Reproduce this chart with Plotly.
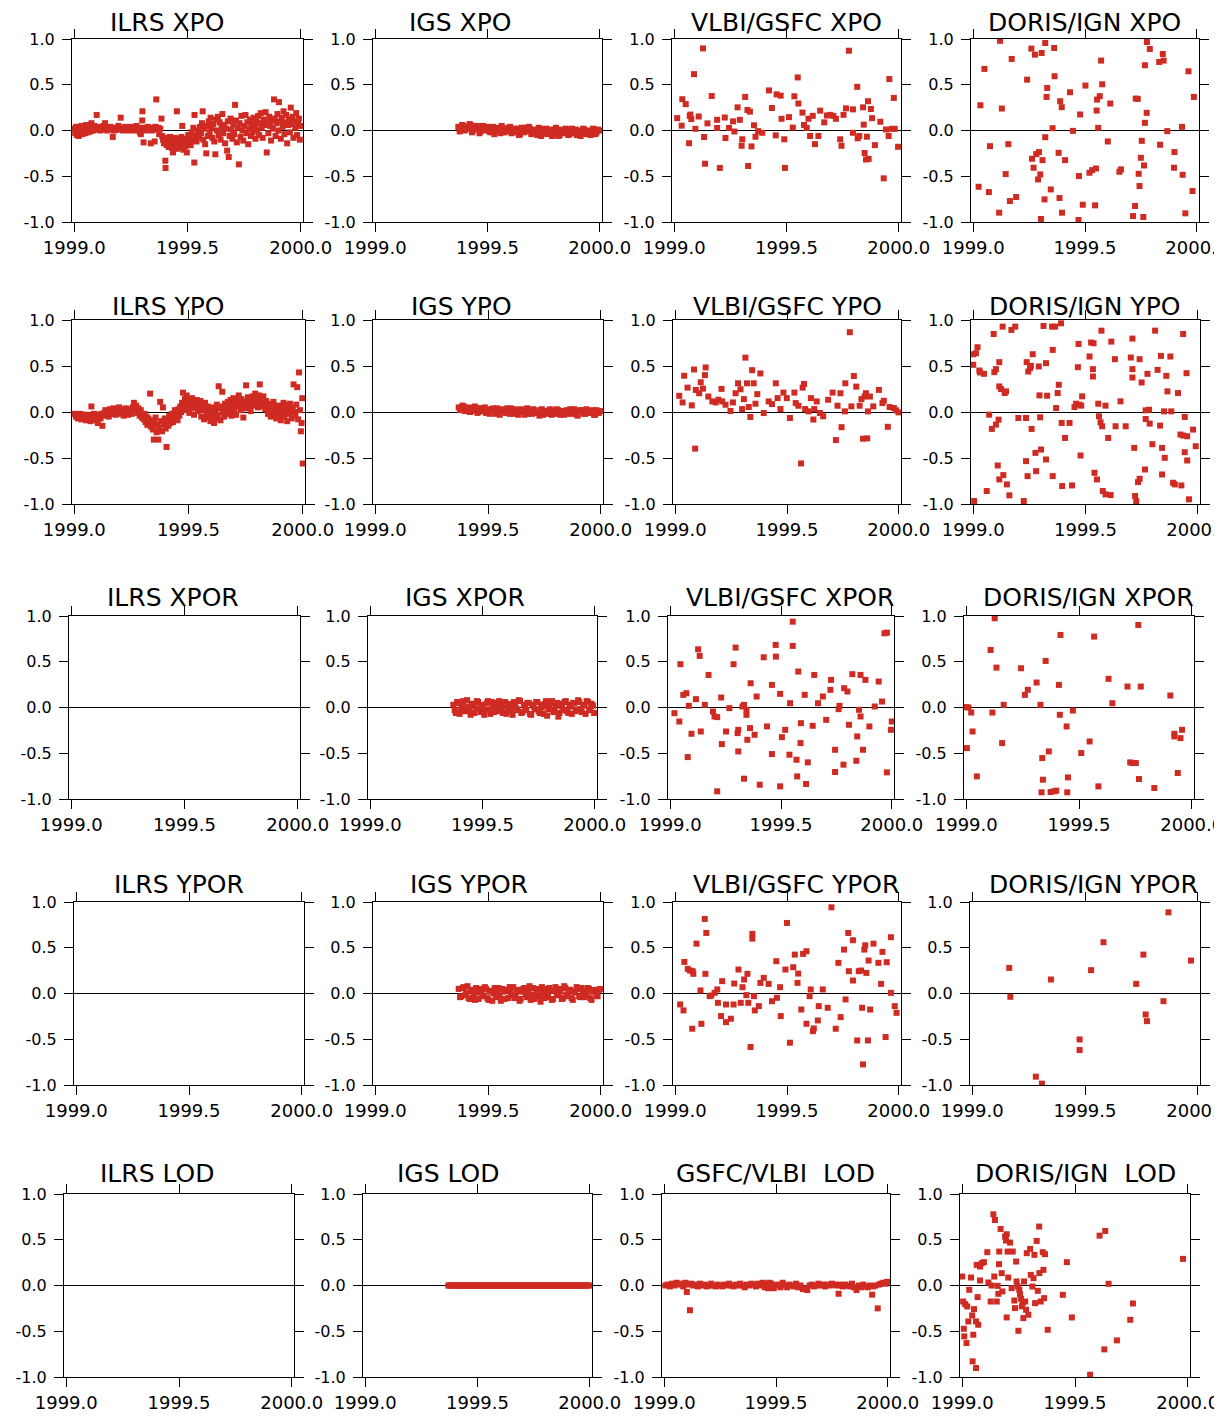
import plotly.graph_objects as go

# ---------------- DATA (decimal year, value) ----------------
ILRS_XPO = [(1999.000,0.02),(1999.004,-0.03),(1999.008,0.04),(1999.012,-0.05),(1999.016,0.01),(1999.020,-0.06),(1999.024,0.03),(1999.028,-0.02),(1999.032,0.05),(1999.036,-0.04),(1999.040,0.00),(1999.044,0.03),(1999.048,-0.03),(1999.052,0.06),(1999.056,0.01),(1999.060,-0.02),(1999.064,0.04),(1999.068,0.02),(1999.072,-0.01),(1999.076,0.08),(1999.080,0.03),(1999.084,0.00),(1999.088,0.05),(1999.092,0.02),(1999.099,0.17),(1999.100,0.01),(1999.105,0.04),(1999.110,0.02),(1999.115,0.00),(1999.120,0.03),(1999.125,0.01),(1999.130,0.05),(1999.136,0.08),(1999.140,0.02),(1999.145,0.00),(1999.150,0.03),(1999.155,0.01),(1999.160,0.04),(1999.165,0.02),(1999.170,-0.07),(1999.175,0.00),(1999.180,0.03),(1999.185,0.01),(1999.190,0.02),(1999.195,0.05),(1999.200,0.01),(1999.205,0.14),(1999.210,0.03),(1999.215,0.00),(1999.220,0.02),(1999.225,0.04),(1999.230,0.01),(1999.235,0.03),(1999.240,0.00),(1999.245,0.02),(1999.250,0.04),(1999.255,0.01),(1999.260,0.03),(1999.265,0.00),(1999.270,0.02),(1999.275,0.05),(1999.280,0.01),(1999.285,0.03),(1999.290,-0.02),(1999.294,-0.04),(1999.300,0.11),(1999.301,0.21),(1999.305,0.02),(1999.306,-0.13),(1999.310,0.03),(1999.315,0.00),(1999.320,0.02),(1999.325,0.04),(1999.330,0.01),(1999.335,0.03),(1999.338,-0.14),(1999.342,0.00),(1999.348,0.02),(1999.355,-0.12),(1999.358,0.04),(1999.362,0.34),(1999.366,0.01),(1999.370,0.03),(1999.375,-0.04),(1999.380,0.02),(1999.385,0.13),(1999.388,-0.06),
(1999.392,-0.10),(1999.396,-0.14),(1999.400,-0.08),(1999.402,-0.33),(1999.403,-0.41),(1999.405,-0.12),(1999.408,-0.16),(1999.411,-0.09),(1999.414,-0.13),(1999.417,-0.18),(1999.420,-0.11),(1999.423,-0.07),(1999.426,-0.15),(1999.429,-0.12),(1999.432,-0.19),(1999.436,-0.24),(1999.438,-0.10),(1999.441,-0.14),(1999.444,-0.08),(1999.447,-0.17),(1999.450,-0.12),(1999.453,0.21),(1999.455,-0.20),(1999.458,-0.09),(1999.461,-0.15),(1999.464,-0.11),(1999.467,-0.18),(1999.470,-0.13),(1999.473,-0.07),(1999.477,0.05),(1999.479,-0.16),(1999.482,-0.21),(1999.485,-0.12),(1999.488,-0.09),(1999.491,-0.17),(1999.494,-0.14),(1999.497,-0.24),(1999.500,-0.10),(1999.503,-0.05),(1999.506,-0.13),(1999.510,-0.08),(1999.514,-0.16),(1999.518,-0.02),(1999.522,-0.11),(1999.526,0.03),(1999.530,-0.35),(1999.531,0.17),(1999.535,-0.06),(1999.540,-0.12),(1999.545,0.00),(1999.550,-0.08),(1999.555,0.04),
(1999.560,-0.03),(1999.564,0.08),(1999.567,0.21),(1999.570,-0.10),(1999.574,0.02),(1999.578,-0.15),(1999.583,-0.25),(1999.586,0.05),(1999.590,-0.06),(1999.594,0.10),(1999.598,-0.02),(1999.602,0.14),(1999.606,0.03),(1999.610,-0.08),(1999.614,0.07),(1999.618,-0.12),(1999.623,-0.26),(1999.626,0.12),(1999.630,0.00),(1999.634,0.15),(1999.638,-0.05),(1999.642,0.09),(1999.646,-0.10),(1999.650,0.04),(1999.654,0.18),(1999.658,-0.03),(1999.662,0.06),(1999.666,-0.14),(1999.670,0.02),(1999.675,-0.22),(1999.678,0.10),(1999.682,-0.29),(1999.686,-0.06),(1999.690,0.13),(1999.694,0.01),(1999.698,-0.09),(1999.702,0.07),(1999.706,-0.04),(1999.710,0.28),(1999.714,0.11),(1999.718,-0.13),(1999.722,0.03),(1999.727,-0.37),(1999.730,0.08),(1999.734,-0.07),(1999.738,0.16),(1999.742,0.00),(1999.746,-0.11),(1999.750,0.05),(1999.756,0.17),(1999.760,-0.03),(1999.764,0.09),(1999.768,-0.15),(1999.772,0.02),(1999.776,0.12),(1999.780,-0.06),(1999.784,0.07),(1999.788,-0.02),(1999.792,0.14),(1999.796,0.04),(1999.800,-0.09),(1999.804,0.10),(1999.808,0.01),(1999.812,0.16),(1999.816,-0.05),(1999.820,0.08),(1999.824,0.19),(1999.828,0.03),(1999.832,-0.08),(1999.836,0.12),(1999.840,0.06),(1999.845,0.20),(1999.850,-0.24),(1999.853,0.09),(1999.857,-0.03),(1999.861,0.15),(1999.865,0.05),(1999.869,-0.11),(1999.873,0.11),(1999.877,0.02),(1999.882,0.34),(1999.885,0.13),(1999.889,-0.06),(1999.893,0.08),(1999.897,0.18),(1999.901,0.00),(1999.904,0.31),(1999.908,0.10),(1999.912,-0.09),(1999.916,0.14),(1999.920,0.04),(1999.924,0.21),(1999.928,-0.04),(1999.932,0.09),(1999.936,0.17),(1999.940,-0.14),(1999.944,0.06),(1999.948,0.12),(1999.952,-0.02),(1999.956,0.25),(1999.960,0.07),(1999.964,0.15),(1999.968,-0.08),(1999.972,0.10),(1999.976,0.03),(1999.980,0.19),(1999.984,-0.05),(1999.988,0.08),(1999.992,0.13),(1999.996,-0.10),(2000.000,0.05)]

ILRS_YPO = [(1999.003,-0.02),(1999.007,-0.05),(1999.011,-0.03),(1999.015,-0.07),(1999.019,-0.04),(1999.023,-0.06),(1999.027,-0.02),(1999.031,-0.08),(1999.035,-0.05),(1999.039,-0.03),(1999.043,-0.07),(1999.047,-0.04),(1999.051,-0.09),(1999.055,-0.06),(1999.059,-0.03),(1999.063,-0.08),(1999.067,-0.05),(1999.071,-0.10),(1999.075,0.06),(1999.079,-0.04),(1999.083,-0.07),(1999.087,-0.02),(1999.091,-0.06),(1999.095,-0.09),(1999.099,-0.04),(1999.103,-0.12),(1999.107,-0.05),(1999.111,-0.03),(1999.115,-0.07),(1999.119,-0.02),(1999.123,-0.15),(1999.127,-0.04),
(1999.131,-0.01),(1999.136,0.02),(1999.141,-0.03),(1999.146,0.01),(1999.151,-0.05),(1999.156,0.03),(1999.161,0.00),(1999.166,-0.02),(1999.171,0.04),(1999.176,0.01),(1999.181,-0.03),(1999.186,0.02),(1999.191,0.00),(1999.196,0.05),(1999.201,-0.02),(1999.206,0.03),(1999.211,0.01),(1999.216,-0.04),(1999.221,0.02),(1999.226,0.04),(1999.231,0.00),(1999.236,-0.03),(1999.241,0.03),(1999.246,0.01),(1999.251,-0.02),(1999.256,0.05),(1999.261,0.10),(1999.266,0.02),(1999.271,0.07),(1999.276,-0.01),(1999.281,0.04),(1999.286,-0.04),(1999.291,0.02),(1999.296,-0.06),
(1999.300,-0.03),(1999.304,-0.08),(1999.308,-0.02),(1999.312,-0.11),(1999.316,-0.05),(1999.320,-0.14),(1999.324,-0.07),(1999.328,-0.10),(1999.332,0.20),(1999.336,-0.16),(1999.340,-0.09),(1999.344,-0.19),(1999.348,-0.30),(1999.352,-0.12),(1999.356,-0.06),(1999.360,-0.22),(1999.364,-0.14),(1999.368,-0.30),(1999.372,-0.17),(1999.376,0.11),(1999.380,-0.10),(1999.384,-0.21),(1999.388,0.05),(1999.392,-0.13),(1999.396,-0.07),(1999.400,-0.18),(1999.404,-0.38),(1999.408,-0.09),(1999.412,-0.15),(1999.416,-0.04),(1999.420,-0.12),(1999.424,-0.08),(1999.428,-0.02),(1999.432,-0.11),(1999.436,-0.05),(1999.440,0.02),(1999.444,-0.07),(1999.448,-0.01),(1999.452,-0.09),(1999.456,0.03),(1999.460,-0.04),(1999.464,0.06),(1999.468,0.00),(1999.472,0.10),
(1999.476,0.21),(1999.480,0.05),(1999.484,0.14),(1999.488,0.02),(1999.492,0.18),(1999.496,0.08),(1999.500,0.12),(1999.504,-0.01),(1999.508,0.10),(1999.512,0.04),(1999.516,0.15),(1999.520,0.07),(1999.524,-0.03),(1999.528,0.11),(1999.532,0.05),(1999.536,0.13),(1999.540,0.01),(1999.544,0.09),(1999.548,0.03),(1999.552,0.12),(1999.556,-0.05),(1999.560,0.07),(1999.564,0.02),(1999.568,-0.08),(1999.572,0.10),(1999.576,0.04),(1999.580,-0.02),(1999.584,0.06),
(1999.588,-0.06),(1999.592,0.03),(1999.596,-0.10),(1999.600,0.01),(1999.604,-0.04),(1999.608,0.05),(1999.612,-0.12),(1999.616,0.02),(1999.620,-0.07),(1999.624,0.08),(1999.628,-0.03),(1999.632,0.28),(1999.636,0.04),(1999.640,-0.09),(1999.644,0.06),(1999.648,0.22),(1999.652,0.00),(1999.656,-0.05),(1999.660,0.09),(1999.664,0.03),(1999.668,-0.02),(1999.672,0.11),(1999.676,0.05),(1999.680,0.00),(1999.684,0.13),(1999.688,-0.04),
(1999.692,0.07),(1999.696,0.15),(1999.700,0.03),(1999.704,0.10),(1999.708,-0.03),(1999.712,0.12),(1999.716,0.06),(1999.720,0.18),(1999.724,0.09),(1999.728,0.02),(1999.732,0.14),(1999.736,0.07),(1999.740,-0.06),(1999.744,0.11),(1999.748,0.04),(1999.752,0.29),(1999.756,0.09),(1999.760,0.16),(1999.764,0.05),(1999.768,0.12),(1999.772,0.01),(1999.776,0.10),(1999.780,0.17),(1999.784,0.07),(1999.788,0.13),(1999.792,0.20),(1999.796,0.09),(1999.800,0.15),(1999.804,0.05),(1999.808,0.18),(1999.812,0.30),(1999.816,0.11),(1999.820,0.14),(1999.824,0.06),(1999.828,0.17),(1999.832,0.10),(1999.836,0.03),(1999.840,0.12),
(1999.844,0.07),(1999.848,-0.02),(1999.852,0.09),(1999.856,0.04),(1999.860,-0.05),(1999.864,0.08),(1999.868,0.01),(1999.872,0.11),(1999.876,-0.03),(1999.880,0.05),(1999.884,-0.07),(1999.888,0.02),(1999.892,0.07),(1999.896,-0.04),(1999.900,0.03),(1999.904,-0.09),(1999.908,0.06),(1999.912,0.00),(1999.916,0.10),(1999.920,-0.05),(1999.924,0.04),(1999.928,0.01),(1999.932,-0.10),(1999.936,0.07),(1999.940,-0.02),(1999.944,0.09),(1999.948,0.03),(1999.952,-0.07),(1999.956,0.05),(1999.960,0.30),(1999.964,0.00),(1999.968,-0.04),(1999.972,0.08),(1999.976,0.27),(1999.980,-0.08),(1999.984,0.43),(1999.988,0.02),(1999.992,-0.21),(1999.995,-0.12),(1999.998,0.15),(2000.000,-0.56)]

# IGS daily series: two interleaved sets of epochs
IGS_T = [1999.370,1999.381,1999.392,1999.403,1999.414,1999.425,1999.436,1999.447,1999.458,1999.469,1999.480,1999.491,1999.502,1999.513,1999.524,1999.535,1999.546,1999.557,1999.568,1999.579,1999.590,1999.601,1999.612,1999.623,1999.634,1999.645,1999.656,1999.667,1999.678,1999.689,1999.700,1999.711,1999.722,1999.733,1999.744,1999.755,1999.766,1999.777,1999.788,1999.799,1999.810,1999.821,1999.832,1999.843,1999.854,1999.865,1999.876,1999.887,1999.898,1999.909,1999.920,1999.931,1999.942,1999.953,1999.964,1999.975,1999.986,1999.997]
IGS_T2 = [1999.376,1999.387,1999.398,1999.409,1999.420,1999.431,1999.442,1999.453,1999.464,1999.475,1999.486,1999.497,1999.508,1999.519,1999.530,1999.541,1999.552,1999.563,1999.574,1999.585,1999.596,1999.607,1999.618,1999.629,1999.640,1999.651,1999.662,1999.673,1999.684,1999.695,1999.706,1999.717,1999.728,1999.739,1999.750,1999.761,1999.772,1999.783,1999.794,1999.805,1999.816,1999.827,1999.838,1999.849,1999.860,1999.871,1999.882,1999.893,1999.904,1999.915,1999.926,1999.937,1999.948,1999.959,1999.970,1999.981,1999.992]
IGS_XPO_Y = [0.04,0.02,0.05,0.01,0.03,0.06,0.00,0.04,0.02,-0.01,0.05,0.01,0.03,-0.02,0.04,0.00,0.02,-0.03,0.03,0.01,-0.01,0.04,0.00,-0.02,0.02,-0.04,0.01,0.03,-0.01,0.02,-0.03,0.00,-0.05,0.02,-0.02,0.01,-0.04,0.00,-0.06,0.01,-0.02,-0.05,0.01,-0.03,0.00,-0.04,0.02,-0.02,-0.05,0.00,-0.03,0.01,-0.04,-0.01,-0.03,0.01,-0.02,0.00]
IGS_XPO_Y2 = [-0.01,0.06,0.00,0.04,0.07,-0.02,0.03,0.05,-0.03,0.02,0.00,0.04,-0.01,0.02,-0.04,0.03,0.00,0.05,-0.02,0.01,0.03,-0.03,0.02,0.00,-0.05,0.03,-0.02,0.00,0.04,-0.04,0.01,-0.02,0.03,-0.06,0.00,0.02,-0.03,0.01,-0.04,0.03,-0.06,0.00,-0.02,0.02,-0.05,0.00,-0.03,0.01,-0.02,-0.06,0.02,-0.03,0.00,-0.05,0.02,-0.04,0.01]
IGS_YPO_Y = [0.05,0.03,0.06,0.02,0.04,0.01,0.05,0.03,0.00,0.04,0.02,-0.01,0.03,0.01,0.04,-0.02,0.02,0.00,0.03,-0.01,0.02,0.04,-0.02,0.01,-0.03,0.03,0.00,0.02,-0.02,0.01,0.03,-0.01,0.00,0.02,-0.03,0.01,-0.01,0.03,0.00,-0.02,0.02,-0.03,0.01,0.00,-0.02,0.03,-0.01,0.01,-0.04,0.02,0.00,-0.02,0.01,-0.01,0.02,-0.03,0.00,0.01]
IGS_YPO_Y2 = [0.02,0.07,0.01,0.05,0.00,0.03,0.06,-0.01,0.04,0.01,0.05,0.00,-0.02,0.03,0.01,0.04,-0.03,0.02,0.00,0.04,-0.02,0.01,0.03,-0.01,0.02,0.00,-0.03,0.04,0.01,-0.02,0.02,0.00,-0.04,0.03,0.01,-0.02,0.02,-0.03,0.01,0.03,-0.01,0.00,-0.03,0.02,0.01,-0.02,0.03,-0.03,0.00,0.02,-0.02,0.03,-0.01,0.00,-0.03,0.02,-0.01]
IGS_XPOR_Y = [0.03,-0.06,0.05,-0.02,0.07,-0.04,0.01,-0.08,0.04,-0.01,0.06,-0.05,0.02,-0.03,0.07,-0.07,0.00,0.05,-0.04,0.03,-0.06,0.06,-0.01,0.04,-0.08,0.02,-0.03,0.07,-0.05,0.01,0.05,-0.07,0.03,-0.02,0.06,-0.06,0.00,0.04,-0.09,0.02,0.07,-0.03,0.05,-0.06,0.01,0.06,-0.04,0.03,-0.07,0.05,-0.02,0.06,-0.05,0.02,0.07,-0.03,0.04,-0.06]
IGS_XPOR_Y2 = [-0.03,0.06,-0.07,0.02,-0.04,0.08,-0.02,0.04,-0.06,0.07,-0.01,0.03,-0.08,0.05,-0.02,0.06,-0.05,0.01,0.07,-0.03,0.04,-0.07,0.02,-0.04,0.06,-0.01,0.08,-0.06,0.03,-0.03,0.05,-0.08,0.01,0.06,-0.04,0.03,-0.07,0.07,-0.02,0.05,-0.05,0.02,-0.10,0.04,-0.03,0.07,-0.06,0.01,0.05,-0.04,0.08,-0.02,0.03,-0.07,0.06,-0.01,0.02]
IGS_YPOR_Y = [0.05,-0.03,0.07,0.01,-0.05,0.04,-0.01,0.06,-0.06,0.02,-0.02,0.05,-0.07,0.03,0.00,-0.04,0.06,-0.08,0.02,0.04,-0.05,0.01,0.07,-0.03,0.03,-0.06,0.05,-0.01,0.02,-0.07,0.06,-0.02,0.04,-0.09,0.01,0.05,-0.04,0.03,-0.06,0.07,-0.01,0.02,-0.05,0.06,-0.03,0.04,-0.07,0.01,0.05,-0.04,0.03,-0.02,0.06,-0.05,0.02,0.04,-0.03,0.05]
IGS_YPOR_Y2 = [-0.04,0.06,-0.02,0.08,-0.06,0.03,-0.07,0.01,0.05,-0.03,0.07,-0.05,0.02,-0.08,0.06,0.00,-0.04,0.05,-0.06,0.03,0.07,-0.02,-0.05,0.04,-0.08,0.02,0.06,-0.04,0.08,-0.01,-0.06,0.05,-0.03,0.07,-0.05,0.01,0.06,-0.07,0.03,-0.02,0.05,-0.06,0.08,-0.01,0.04,-0.05,0.02,0.07,-0.03,0.06,-0.04,0.01,0.05,-0.07,0.03,-0.02,0.04]
IGS_LOD_Y = [0.00,0.00,0.00,0.00,0.00,0.00,0.00,0.00,0.00,0.00,0.00,0.00,0.00,0.00,0.00,0.00,0.00,0.00,0.00,0.00,0.00,0.00,0.00,0.00,0.00,0.00,0.00,0.00,0.00,0.00,0.00,0.00,0.00,0.00,0.00,0.00,0.00,0.00,0.00,0.00,0.00,0.00,0.00,0.00,0.00,0.00,0.00,0.00,0.00,0.00,0.00,0.00,0.00,0.00,0.00,0.00,0.00,0.00]

VLBI_XPO = [(1999.013,0.135),(1999.036,0.342),(1999.033,0.053),(1999.051,0.288),(1999.069,0.16),(1999.076,0.125),(1999.066,-0.139),(1999.088,0.616),(1999.072,0.174),(1999.094,0.018),(1999.109,0.153),(1999.128,0.897),(1999.133,-0.071),(1999.137,-0.363),(1999.148,0.078),(1999.167,0.377),(1999.191,0.117),(1999.191,0.028),(1999.203,-0.409),(1999.225,0.142),(1999.228,-0.082),(1999.244,0.028),(1999.268,-0.011),(1999.262,0.1),(1999.282,0.253),(1999.292,0.117),(1999.3,-0.167),(1999.303,-0.096),(1999.316,0.367),(1999.326,0.224),(1999.329,-0.388),(1999.337,0.206),(1999.344,-0.174),(1999.355,0.057),(1999.362,-0.068),(1999.374,-0.007),(1999.392,-0.025),(1999.422,0.438),(1999.435,0.246),(1999.452,-0.053),(1999.456,0.395),(1999.474,0.381),(1999.478,0.128),(1999.49,-0.096),(1999.493,-0.409),(1999.511,0.146),(1999.528,0.032),(1999.535,0.374),(1999.55,0.58),(1999.553,0.295),(1999.571,0.196),(1999.578,0.06),(1999.59,0.028),(1999.598,0.128),(1999.605,-0.06),(1999.617,0.16),(1999.627,-0.149),(1999.642,-0.06),(1999.65,0.217),(1999.668,0.089),(1999.68,0.164),(1999.694,0.171),(1999.709,0.16),(1999.72,0.128),(1999.739,-0.096),(1999.745,-0.167),(1999.754,0.171),(1999.765,0.242),(1999.778,0.872),(1999.796,0.231),(1999.796,-0.025),(1999.815,0.477),(1999.817,-0.085),(1999.824,-0.06),(1999.841,0.253),(1999.844,0.064),(1999.848,-0.246),(1999.854,-0.317),(1999.858,-0.068),(1999.863,0.32),(1999.866,-0.31),(1999.876,0.235),(1999.881,0.135),(1999.894,-0.16),(1999.918,0.096),(1999.933,-0.523),(1999.943,0.011),(1999.955,-0.06),(1999.958,0.562),(1999.97,0.018),(1999.978,0.356),(1999.982,0.018),(1999.997,-0.178)]

DORIS_XPO = [(1999.032,0.276),(1999.05,0.673),(1999.024,-0.615),(1999.07,-0.673),(1999.075,-0.171),(1999.12,0.98),(1999.128,0.24),(1999.116,-0.898),(1999.145,-0.476),(1999.157,-0.149),(1999.164,-0.771),(1999.172,0.782),(1999.192,-0.727),(1999.241,0.556),(1999.26,0.895),(1999.263,-0.309),(1999.27,-0.407),(1999.276,0.829),(1999.282,-0.258),(1999.29,-0.535),(1999.294,-0.236),(1999.3,-0.48),(1999.306,0.847),(1999.303,-0.967),(1999.31,-0.324),(1999.319,-0.753),(1999.322,-0.073),(1999.322,0.956),(1999.328,0.367),(1999.331,0.465),(1999.347,-0.644),(1999.355,0.025),(1999.362,0.902),(1999.364,0.593),(1999.382,-0.244),(1999.389,0.32),(1999.386,-0.738),(1999.396,0.255),(1999.397,-0.898),(1999.411,-0.324),(1999.433,0.418),(1999.446,-0.004),(1999.471,-0.978),(1999.473,-0.498),(1999.478,0.175),(1999.49,-0.811),(1999.502,0.491),(1999.52,-0.462),(1999.532,-0.433),(1999.545,-0.818),(1999.549,-0.415),(1999.552,0.218),(1999.554,0.338),(1999.559,0.029),(1999.566,0.375),(1999.572,0.764),(1999.577,0.505),(1999.602,-0.12),(1999.613,0.295),(1999.654,-0.451),(1999.661,-0.425),(1999.715,-0.935),(1999.724,-0.825),(1999.727,0.349),(1999.736,0.345),(1999.74,-0.473),(1999.744,-0.607),(1999.75,-0.298),(1999.754,-0.113),(1999.761,-0.945),(1999.764,-0.382),(1999.768,0.713),(1999.768,0.084),(1999.776,0.193),(1999.777,0.967),(1999.79,0.891),(1999.836,-0.156),(1999.832,0.749),(1999.848,0.836),(1999.852,0.764),(1999.868,-0.007),(1999.9,-0.236),(1999.898,-0.407),(1999.934,0.04),(1999.937,-0.484),(1999.949,-0.905),(1999.963,0.647),(1999.981,-0.662),(1999.987,0.367)]

VLBI_YPO = [(1999.018,0.176),(1999.033,0.104),(1999.04,0.394),(1999.055,0.265),(1999.074,0.072),(1999.084,0.462),(1999.089,-0.398),(1999.092,0.24),(1999.107,0.204),(1999.114,0.323),(1999.124,0.254),(1999.133,0.401),(1999.136,0.484),(1999.148,0.168),(1999.166,0.115),(1999.181,0.104),(1999.193,0.133),(1999.207,0.251),(1999.21,0.115),(1999.225,0.079),(1999.247,0.011),(1999.258,0.104),(1999.27,0.204),(1999.281,0.312),(1999.292,0.247),(1999.299,0.032),(1999.307,0.14),(1999.314,0.591),(1999.321,0.312),(1999.329,0.054),(1999.336,-0.054),(1999.344,0.455),(1999.351,0.312),(1999.359,0.09),(1999.367,0.194),(1999.381,0.419),(1999.396,-0.011),(1999.418,0.115),(1999.433,0.086),(1999.45,0.312),(1999.458,0.151),(1999.471,0.032),(1999.484,0.211),(1999.499,0.151),(1999.513,-0.065),(1999.533,0.211),(1999.539,0.097),(1999.551,0.068),(1999.563,-0.559),(1999.57,0.265),(1999.576,0.305),(1999.581,0.032),(1999.596,0.007),(1999.607,0.151),(1999.618,-0.082),(1999.622,0.032),(1999.633,0.115),(1999.647,-0.011),(1999.662,-0.047),(1999.684,0.133),(1999.704,0.211),(1999.719,-0.305),(1999.726,0.068),(1999.739,0.204),(1999.744,-0.165),(1999.759,0.007),(1999.761,0.312),(1999.781,0.867),(1999.788,0.061),(1999.799,0.391),(1999.81,0.276),(1999.825,0.068),(1999.833,0.14),(1999.84,-0.29),(1999.847,0.168),(1999.859,-0.287),(1999.853,0.204),(1999.862,0.007),(1999.871,0.168),(1999.886,0.061),(1999.911,0.24),(1999.927,0.097),(1999.933,0.122),(1999.951,-0.161),(1999.959,0.054),(1999.978,0.043),(1999.988,0.018),(1999.999,-0.004)]

DORIS_YPO = [(1999.0,0.628),(1999.012,0.639),(1999.0,0.513),(1999.019,0.704),(1999.027,0.451),(1999.03,0.43),(1999.048,0.415),(1999.06,-0.859),(1999.004,-0.968),(1999.071,-0.029),(1999.083,-0.184),(1999.091,0.848),(1999.094,0.433),(1999.101,0.466),(1999.101,-0.137),(1999.109,-0.581),(1999.113,-0.083),(1999.116,0.542),(1999.116,0.278),(1999.124,0.249),(1999.116,-0.733),(1999.131,0.928),(1999.134,-0.686),(1999.14,0.206),(1999.146,0.224),(1999.15,-0.787),(1999.161,-0.906),(1999.17,0.892),(1999.187,0.928),(1999.201,-0.065),(1999.225,-0.968),(1999.235,-0.065),(1999.235,-0.534),(1999.238,0.542),(1999.242,-0.697),(1999.245,0.44),(1999.253,0.477),(1999.257,0.502),(1999.26,-0.184),(1999.265,0.628),(1999.28,-0.643),(1999.277,-0.444),(1999.292,0.495),(1999.295,0.181),(1999.298,-0.058),(1999.302,-0.408),(1999.313,0.935),(1999.324,0.531),(1999.329,0.177),(1999.324,-0.516),(1999.354,0.675),(1999.354,-0.697),(1999.351,0.928),(1999.365,0.928),(1999.369,0.043),(1999.376,0.206),(1999.381,0.296),(1999.394,-0.119),(1999.396,-0.805),(1999.391,0.964),(1999.409,-0.282),(1999.429,-0.119),(1999.44,-0.798),(1999.451,0.054),(1999.458,0.09),(1999.466,0.487),(1999.469,0.74),(1999.473,0.079),(1999.478,-0.473),(1999.485,0.17),(1999.481,0.069),(1999.518,0.603),(1999.525,0.755),(1999.533,0.466),(1999.533,0.386),(1999.536,0.747),(1999.54,-0.661),(1999.551,-0.733),(1999.557,0.09),(1999.56,-0.047),(1999.567,-0.112),(1999.571,0.884),(1999.574,-0.155),(1999.589,0.069),(1999.577,-0.859),(1999.589,-0.895),(1999.601,-0.282),(1999.612,-0.903),(1999.615,0.765),(1999.634,-0.155),(1999.631,0.574),(1999.656,0.116),(1999.679,-0.155),(1999.702,0.592),(1999.709,0.798),(1999.709,0.466),(1999.709,0.375),(1999.717,-0.39),(1999.721,-0.913),(1999.726,-0.968),(1999.734,-0.762),(1999.741,-0.726),(1999.741,0.574),(1999.75,0.321),(1999.765,-0.625),(1999.768,-0.076),(1999.768,0.018),(1999.776,0.415),(1999.783,0.025),(1999.786,-0.126),(1999.798,-0.35),(1999.81,0.884),(1999.821,0.458),(1999.832,-0.148),(1999.836,0.61),(1999.841,-0.679),(1999.841,-0.39),(1999.85,0.007),(1999.853,-0.498),(1999.86,0.393),(1999.865,0.224),(1999.878,0.603),(1999.882,0.007),(1999.89,-0.769),(1999.898,-0.787),(1999.912,0.206),(1999.927,-0.798),(1999.923,-0.245),(1999.935,0.848),(1999.935,-0.256),(1999.942,-0.054),(1999.95,0.422),(1999.953,-0.527),(1999.942,-0.437),(1999.953,-0.264),(1999.961,-0.949),(1999.979,-0.191),(1999.991,-0.372)]

VLBI_XPOR = [(1999.019,-0.062),(1999.041,-0.153),(1999.046,0.473),(1999.059,0.138),(1999.073,0.156),(1999.079,-0.542),(1999.084,0.018),(1999.096,-0.287),(1999.116,0.091),(1999.126,0.636),(1999.133,0.564),(1999.138,-0.262),(1999.156,0.029),(1999.173,0.356),(1999.193,-0.044),(1999.2,-0.098),(1999.212,-0.916),(1999.212,-0.105),(1999.23,0.109),(1999.233,-0.4),(1999.252,-0.262),(1999.267,-0.007),(1999.286,0.473),(1999.295,0.655),(1999.304,-0.28),(1999.307,-0.244),(1999.307,-0.48),(1999.326,0.011),(1999.333,0.029),(1999.333,-0.778),(1999.344,-0.025),(1999.344,-0.08),(1999.348,-0.353),(1999.36,-0.225),(1999.363,0.265),(1999.381,-0.298),(1999.39,0.12),(1999.404,-0.844),(1999.422,0.549),(1999.437,-0.207),(1999.459,0.247),(1999.459,-0.509),(1999.476,0.684),(1999.477,0.556),(1999.496,0.149),(1999.496,-0.862),(1999.504,-0.324),(1999.519,-0.244),(1999.538,-0.516),(1999.541,0.047),(1999.553,0.938),(1999.553,0.673),(1999.57,-0.571),(1999.573,-0.753),(1999.578,0.393),(1999.588,-0.389),(1999.59,-0.171),(1999.607,0.138),(1999.613,-0.836),(1999.621,-0.6),(1999.643,-0.2),(1999.65,0.356),(1999.667,0.047),(1999.689,0.12),(1999.704,-0.135),(1999.723,0.193),(1999.726,0.302),(1999.744,-0.462),(1999.744,-0.705),(1999.76,-0.018),(1999.764,0.018),(1999.782,-0.625),(1999.785,0.211),(1999.8,0.175),(1999.807,-0.189),(1999.822,0.364),(1999.84,-0.582),(1999.844,-0.316),(1999.852,-0.025),(1999.859,0.356),(1999.859,-0.098),(1999.87,-0.462),(1999.881,0.302),(1999.899,-0.207),(1999.923,0.011),(1999.941,0.284),(1999.956,0.065),(1999.967,0.811),(1999.978,-0.709),(1999.978,0.818),(1999.996,-0.244),(2000.0,-0.153)]

DORIS_XPOR = [(1999.0,0.004),(1999.003,-0.444),(1999.01,0.0),(1999.022,-0.055),(1999.028,-0.262),(1999.047,-0.753),(1999.108,0.629),(1999.116,-0.055),(1999.126,0.975),(1999.134,0.436),(1999.159,-0.389),(1999.166,0.029),(1999.243,0.429),(1999.26,0.138),(1999.273,0.193),(1999.312,0.273),(1999.329,0.029),(1999.334,-0.927),(1999.337,-0.553),(1999.34,-0.789),(1999.352,0.509),(1999.366,-0.48),(1999.374,-0.924),(1999.389,-0.916),(1999.399,-0.909),(1999.411,0.247),(1999.415,-0.08),(1999.418,0.793),(1999.445,-0.207),(1999.448,-0.927),(1999.451,-0.764),(1999.473,-0.033),(1999.51,-0.498),(1999.547,-0.371),(1999.567,0.775),(1999.586,-0.862),(1999.631,0.313),(1999.648,0.047),(1999.715,0.229),(1999.727,-0.6),(1999.737,-0.607),(1999.752,-0.607),(1999.763,0.902),(1999.766,-0.782),(1999.774,0.229),(1999.834,-0.88),(1999.905,0.131),(1999.923,-0.287),(1999.923,-0.316),(1999.938,-0.716),(1999.95,-0.335),(1999.957,-0.244)]

VLBI_YPOR = [(1999.022,-0.12),(1999.037,-0.185),(1999.041,0.345),(1999.056,0.269),(1999.066,0.251),(1999.076,-0.385),(1999.078,0.244),(1999.081,0.215),(1999.095,0.545),(1999.117,-0.331),(1999.113,0.033),(1999.132,0.815),(1999.139,0.662),(1999.135,0.215),(1999.154,-0.029),(1999.161,-0.022),(1999.176,0.007),(1999.188,0.044),(1999.191,-0.102),(1999.21,0.135),(1999.205,-0.247),(1999.227,-0.12),(1999.227,-0.313),(1999.249,-0.276),(1999.264,0.109),(1999.261,-0.12),(1999.283,0.262),(1999.293,-0.102),(1999.301,0.069),(1999.308,0.153),(1999.318,-0.018),(1999.323,0.215),(1999.327,-0.102),(1999.337,-0.585),(1999.345,0.651),(1999.345,0.6),(1999.352,-0.029),(1999.356,-0.185),(1999.374,-0.138),(1999.381,0.116),(1999.396,0.171),(1999.418,0.105),(1999.433,-0.084),(1999.452,0.353),(1999.455,-0.047),(1999.469,0.069),(1999.472,-0.247),(1999.493,0.262),(1999.5,0.771),(1999.513,-0.538),(1999.528,0.287),(1999.535,0.425),(1999.547,0.116),(1999.55,0.218),(1999.564,-0.175),(1999.572,0.433),(1999.587,0.462),(1999.587,-0.331),(1999.601,-0.029),(1999.606,0.044),(1999.616,-0.411),(1999.62,-0.382),(1999.638,-0.295),(1999.642,-0.138),(1999.66,0.044),(1999.682,-0.156),(1999.699,0.942),(1999.718,-0.385),(1999.73,0.335),(1999.74,-0.258),(1999.755,0.48),(1999.762,-0.065),(1999.774,0.662),(1999.777,0.244),(1999.795,0.582),(1999.795,0.142),(1999.814,-0.513),(1999.821,0.244),(1999.831,0.251),(1999.836,-0.156),(1999.84,-0.775),(1999.846,0.48),(1999.85,0.527),(1999.855,0.225),(1999.862,-0.513),(1999.865,0.36),(1999.872,-0.175),(1999.887,0.545),(1999.909,0.335),(1999.921,0.105),(1999.927,0.455),(1999.941,-0.476),(1999.946,0.342),(1999.965,0.615),(1999.965,0.007),(1999.982,-0.138),(1999.99,-0.211)]

DORIS_YPOR = [(1999.164,0.28),(1999.169,-0.036),(1999.282,-0.909),(1999.309,-0.985),(1999.349,0.153),(1999.476,-0.502),(1999.476,-0.618),(1999.527,0.255),(1999.582,0.56),(1999.727,0.105),(1999.759,0.425),(1999.769,-0.229),(1999.775,-0.302),(1999.848,-0.084),(1999.87,0.887),(1999.97,0.36)]

VLBI_LOD = [(1999.005,0.0),(1999.015,0.01),(1999.025,-0.01),(1999.035,0.02),(1999.045,0.0),(1999.055,0.03),(1999.065,0.01),(1999.075,0.02),(1999.085,-0.01),(1999.095,0.03),(1999.101,-0.07),(1999.105,0.01),(1999.115,-0.27),(1999.12,0.02),(1999.13,0.0),(1999.14,0.01),(1999.15,-0.01),(1999.16,0.02),(1999.17,0.0),(1999.18,0.01),(1999.19,-0.01),(1999.2,0.0),(1999.21,0.02),(1999.22,0.0),(1999.23,-0.01),(1999.24,0.01),(1999.25,0.0),(1999.26,-0.01),(1999.27,0.01),(1999.28,0.0),(1999.29,0.02),(1999.3,0.0),(1999.31,-0.01),(1999.32,0.01),(1999.33,0.0),(1999.34,0.02),(1999.35,0.0),(1999.36,-0.02),(1999.37,0.01),(1999.38,0.0),(1999.39,0.02),(1999.40,0.01),(1999.41,-0.01),(1999.42,0.02),(1999.43,0.0),(1999.44,0.03),(1999.45,-0.02),(1999.455,0.02),(1999.46,0.0),(1999.465,-0.03),(1999.47,0.03),(1999.475,-0.01),(1999.48,0.02),(1999.49,-0.03),(1999.5,0.0),(1999.51,0.01),(1999.52,-0.02),(1999.53,0.03),(1999.54,0.0),(1999.55,-0.02),(1999.56,0.01),(1999.57,0.0),(1999.58,-0.01),(1999.59,0.02),(1999.6,-0.02),(1999.61,0.0),(1999.62,-0.04),(1999.63,-0.03),(1999.64,-0.05),(1999.65,0.0),(1999.66,0.01),(1999.67,-0.01),(1999.68,0.0),(1999.69,0.02),(1999.7,0.0),(1999.71,0.01),(1999.72,-0.01),(1999.73,0.01),(1999.74,0.0),(1999.75,0.02),(1999.76,0.01),(1999.77,0.0),(1999.78,-0.09),(1999.785,0.01),(1999.79,0.0),(1999.80,-0.01),(1999.81,0.01),(1999.82,0.0),(1999.83,-0.01),(1999.84,0.02),(1999.85,-0.02),(1999.86,-0.05),(1999.87,0.0),(1999.88,-0.02),(1999.89,0.01),(1999.9,-0.01),(1999.91,-0.02),(1999.92,0.0),(1999.93,-0.1),(1999.935,-0.01),(1999.945,0.0),(1999.955,-0.25),(1999.96,0.01),(1999.97,0.02),(1999.98,0.03),(1999.99,0.02),(1999.997,0.04)]

DORIS_LOD = [(1999.0,0.098),(1999.004,-0.175),(1999.007,-0.473),(1999.009,-0.556),(1999.013,-0.204),(1999.019,-0.629),(1999.022,-0.229),(1999.027,-0.393),(1999.031,-0.047),(1999.039,0.087),(1999.044,-0.327),(1999.049,-0.538),(1999.046,-0.829),(1999.052,-0.258),(1999.061,-0.902),(1999.061,-0.393),(1999.064,0.225),(1999.068,-0.127),(1999.071,-0.429),(1999.079,0.055),(1999.079,0.207),(1999.086,0.244),(1999.096,0.255),(1999.111,0.364),(1999.116,0.033),(1999.126,-0.175),(1999.13,0.0),(1999.138,0.778),(1999.145,0.716),(1999.142,0.098),(1999.153,-0.175),(1999.157,-0.004),(1999.163,0.233),(1999.16,-0.091),(1999.164,0.371),(1999.17,0.618),(1999.175,0.135),(1999.178,-0.065),(1999.19,0.535),(1999.194,0.491),(1999.197,-0.349),(1999.197,0.56),(1999.201,0.371),(1999.204,0.087),(1999.212,0.469),(1999.219,-0.029),(1999.224,0.371),(1999.231,-0.164),(1999.234,-0.247),(1999.239,0.262),(1999.241,0.044),(1999.249,-0.495),(1999.246,-0.011),(1999.253,-0.047),(1999.256,-0.095),(1999.261,-0.145),(1999.264,-0.229),(1999.268,-0.193),(1999.271,-0.356),(1999.274,0.044),(1999.279,-0.175),(1999.283,-0.265),(1999.286,0.353),(1999.293,-0.32),(1999.301,0.4),(1999.304,0.116),(1999.311,-0.011),(1999.316,0.08),(1999.32,0.335),(1999.323,-0.193),(1999.33,0.487),(1999.335,-0.058),(1999.341,0.644),(1999.342,0.135),(1999.348,-0.175),(1999.357,0.364),(1999.36,0.171),(1999.363,-0.138),(1999.367,0.342),(1999.379,-0.484),(1999.446,-0.102),(1999.464,0.255),(1999.486,-0.349),(1999.567,-0.975),(1999.609,0.545),(1999.63,-0.698),(1999.634,0.596),(1999.649,0.018),(1999.686,-0.6),(1999.745,-0.375),(1999.757,-0.196),(1999.979,0.291)]

EMPTY = []

X_TICKS = [1999.0, 1999.5, 2000.0]
X_TICK_TEXT = ["1999.0", "1999.5", "2000.0"]
Y_TICKS = [-1.0, -0.5, 0.0, 0.5, 1.0]
Y_TICK_TEXT = ["-1.0", "-0.5", "0.0", "0.5", "1.0"]


def pairs(p):
    return [a for a, b in p], [b for a, b in p]


def igs(y1, y2):
    pts = list(zip(IGS_T, y1)) + list(zip(IGS_T2, y2))
    return pairs(pts)


PANELS = [
    ["ILRS XPO", pairs(ILRS_XPO)], ["IGS XPO", igs(IGS_XPO_Y, IGS_XPO_Y2)],
    ["VLBI/GSFC XPO", pairs(VLBI_XPO)], ["DORIS/IGN XPO", pairs(DORIS_XPO)],
    ["ILRS YPO", pairs(ILRS_YPO)], ["IGS YPO", igs(IGS_YPO_Y, IGS_YPO_Y2)],
    ["VLBI/GSFC YPO", pairs(VLBI_YPO)], ["DORIS/IGN YPO", pairs(DORIS_YPO)],
    ["ILRS XPOR", pairs(EMPTY)], ["IGS XPOR", igs(IGS_XPOR_Y, IGS_XPOR_Y2)],
    ["VLBI/GSFC XPOR", pairs(VLBI_XPOR)], ["DORIS/IGN XPOR", pairs(DORIS_XPOR)],
    ["ILRS YPOR", pairs(EMPTY)], ["IGS YPOR", igs(IGS_YPOR_Y, IGS_YPOR_Y2)],
    ["VLBI/GSFC YPOR", pairs(VLBI_YPOR)], ["DORIS/IGN YPOR", pairs(DORIS_YPOR)],
    ["ILRS LOD", pairs(EMPTY)], ["IGS LOD", igs(IGS_LOD_Y, IGS_LOD_Y)],
    ["GSFC/VLBI\u00a0 LOD", pairs(VLBI_LOD)], ["DORIS/IGN\u00a0 LOD", pairs(DORIS_LOD)],
]

# ---------------- LAYOUT (page pixel frames) ----------------
OFF = 8                      # page body margin
W, H = 1222 - OFF, 1416 - OFF
ROW_Y = [(39, 222), (320, 504), (616, 799), (902, 1085), (1194, 1377)]
COL_X = [
    [(72, 303), (373, 602), (672, 901), (971, 1199)],
    [(72, 305), (373, 603), (673, 901), (971, 1200)],
    [(69, 300), (368, 597), (668, 894), (964, 1194)],
    [(74, 304), (373, 603), (673, 901), (970, 1200)],
    [(64, 294), (363, 592), (662, 890), (960, 1190)],
]
TITLE_Y = [23, 306, 597, 884, 1173]
TITLE_X = [[167, 460, 786, 1084], [168, 461, 787, 1084], [173, 465, 790, 1088],
           [179, 469, 796, 1093], [157, 448, 776, 1075]]


def px(v):
    return (v - OFF) / W


def py(v):
    return 1 - (v - OFF) / H


RED = "#cf2b22"
FONT = "DejaVu Sans"

fig = go.Figure()
annotations = []
for i, (title, (xs, ys)) in enumerate(PANELS):
    r, c = divmod(i, 4)
    n = i + 1
    xa = "x" if n == 1 else f"x{n}"
    ya = "y" if n == 1 else f"y{n}"
    fig.add_trace(go.Scatter(
        x=list(xs), y=list(ys), mode="markers", xaxis=xa, yaxis=ya,
        marker=dict(symbol="square", size=6, color=RED, line=dict(width=0)),
        showlegend=False, hoverinfo="skip"))
    x0, x1 = COL_X[r][c]
    y0, y1 = ROW_Y[r]
    common = dict(showline=True, linecolor="black", linewidth=1, mirror="allticks",
                  ticks="outside", ticklen=9, tickwidth=1, tickcolor="black",
                  showgrid=False, automargin=False, fixedrange=True,
                  ticklabeloverflow="allow")
    fig.update_layout(**{
        ("xaxis" if n == 1 else f"xaxis{n}"): dict(
            common, domain=[px(x0), px(x1)], anchor=ya, range=[1998.99, 2000.01],
            tickvals=X_TICKS, ticktext=X_TICK_TEXT, zeroline=False,
            tickfont=dict(family=FONT, size=18, color="black")),
        ("yaxis" if n == 1 else f"yaxis{n}"): dict(
            common, domain=[py(y1), py(y0)], anchor=xa, range=[-1, 1],
            tickvals=Y_TICKS, ticktext=Y_TICK_TEXT, zeroline=True,
            zerolinecolor="black", zerolinewidth=1,
            tickfont=dict(family=FONT, size=16, color="black"),
            ticklabelstandoff=4),
    })
    annotations.append(dict(
        text=title, xref="paper", yref="paper", x=px(TITLE_X[r][c]),
        y=py(TITLE_Y[r]), xanchor="center", yanchor="middle", showarrow=False,
        font=dict(family=FONT, size=25, color="black")))

fig.update_layout(width=W, height=H, margin=dict(l=0, r=0, t=0, b=0, autoexpand=False),
                  paper_bgcolor="white", plot_bgcolor="white",
                  annotations=annotations)
fig.write_html("out.html")
